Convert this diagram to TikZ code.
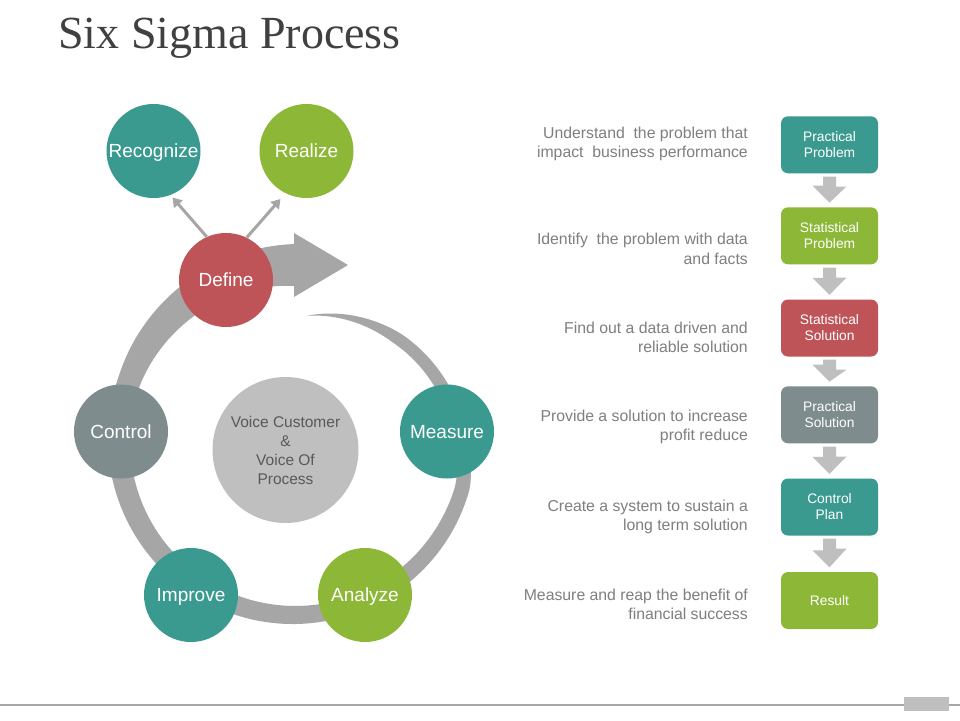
\documentclass[tikz,border=0pt]{standalone}
\usepackage{fontspec}
\setmainfont{Liberation Sans}
\newfontfamily\titlefont{Liberation Serif}
\usetikzlibrary{arrows.meta,calc}
\definecolor{tealc}{HTML}{3A9A90}
\definecolor{greenc}{HTML}{8DB737}
\definecolor{redc}{HTML}{BE5457}
\definecolor{grayc}{HTML}{7F8C8D}
\definecolor{ringgray}{HTML}{A6A6A6}
\definecolor{lightgray}{HTML}{BFBFBF}
\definecolor{centertext}{HTML}{595959}
\definecolor{desctext}{HTML}{7F7F7F}
\definecolor{titlegray}{HTML}{404040}
\newcommand\blockdown[2]{%
  \fill[lightgray] ($(#1.south)+(-6.5,3)$) -- ++(13,0) -- ++(0,10) -- ++(10.5,0)
    -- ($(#2.north)+(0,-4.5)$) -- ++(-17,-17) -- ++(10.5,0) -- cycle;}
\begin{document}
\begin{tikzpicture}[x=1pt,y=-1pt,
  declare function={
    rr(\a) = (\a > -15) ? (175 - 50*(\a+15)/99) : 175;
    ww(\a) = (\a > 45) ? (12*(84-\a)/39) : ((\a > -200) ? (12 + 11*(45-\a)/245) : (23 + 19*(-200-\a)/70));
  },
  bigcirc/.style={circle, minimum size=94pt, inner sep=0pt, text=white,
    text height=13.6pt, text depth=0pt,
    font=\fontsize{19}{22}\selectfont},
  stepbox/.style={rounded corners=7pt, minimum width=97pt, minimum height=57pt,
    inner sep=0pt, text=white, align=center, font=\fontsize{13.8}{16}\selectfont},
  desc/.style={anchor=east, align=right, inner sep=0pt, text=desctext,
    font=\fontsize{15.8}{19.5}\selectfont},
  smallarrow/.style={draw=ringgray, line width=3pt, -{Triangle[width=11pt,length=9pt]}}
]
\useasboundingbox (0,0) rectangle (960,720);
\fill[white] (0,0) rectangle (960,720);

% title
\node[anchor=base west, inner sep=0pt, text=titlegray,
  font=\titlefont\fontsize{46}{50}\selectfont] (title) at (58,48) {Six Sigma Process};

% spiral ring arrow
\fill[ringgray]
  plot[domain=84:-270, samples=160, variable=\a]
    ({294+(rr(\a)+ww(\a)/2)*cos(\a)}, {440-(rr(\a)+ww(\a)/2)*sin(\a)})
  -- (294,233) -- (348,265) -- (294,297)
  -- plot[domain=-270:84, samples=160, variable=\a]
    ({294+(rr(\a)-ww(\a)/2)*cos(\a)}, {440-(rr(\a)-ww(\a)/2)*sin(\a)})
  -- cycle;

% centre circle
\node[circle, minimum size=146pt, inner sep=0pt, fill=lightgray, text=centertext,
  align=center, font=\fontsize{15.5}{19}\selectfont] (voice) at (285.5,450)
  {Voice Customer\\\&\\Voice Of\\Process};

% cycle circles
\node[bigcirc, fill=tealc] (rec) at (153.5,151) {Recognize};
\node[bigcirc, fill=greenc] (real) at (306.5,151) {Realize};
\node[bigcirc, fill=redc] (def) at (226,280) {Define};
\node[bigcirc, fill=grayc] (ctrl) at (121,431.5) {Control};
\node[bigcirc, fill=tealc] (meas) at (447,431.5) {Measure};
\node[bigcirc, fill=tealc] (imp) at (191,595) {Improve};
\node[bigcirc, fill=greenc] (ana) at (365,595) {Analyze};

% small arrows from Define
\coordinate (rectip) at (172.5,197.5);
\coordinate (realtip) at (280.5,199);
\draw[smallarrow] (def.114) -- (rectip);
\draw[smallarrow] (def.64) -- (realtip);

% right column boxes
\node[stepbox, fill=tealc] (b1) at (829.5,144.8) {Practical\\Problem};
\node[stepbox, fill=greenc] (b2) at (829.5,235.8) {Statistical\\Problem};
\node[stepbox, fill=redc] (b3) at (829.5,328) {Statistical\\Solution};
\node[stepbox, fill=grayc] (b4) at (829.5,414.8) {Practical\\Solution};
\node[stepbox, fill=tealc] (b5) at (829.5,507) {Control\\Plan};
\node[stepbox, fill=greenc] (b6) at (829.5,600.5) {Result};

\blockdown{b1}{b2}
\blockdown{b2}{b3}
\blockdown{b3}{b4}
\blockdown{b4}{b5}
\blockdown{b5}{b6}

% descriptions
\node[desc] (d1) at (748,144) {Understand\ \ the problem that\\impact\ \ business performance};
\node[desc] (d2) at (748,249) {Identify\ \ the problem with data\\and facts};
\node[desc] (d3) at (748,337.5) {Find out a data driven and\\reliable solution};
\node[desc] (d4) at (748,427) {Provide a solution to increase\\profit reduce};
\node[desc] (d5) at (748,517) {Create a system to sustain a\\long term solution};
\node[desc] (d6) at (748,604.5) {Measure and reap the benefit of\\financial success};

% footer
\draw[ringgray, line width=1.5pt] (0,705) -- (960,705);
\fill[lightgray] (904,697) rectangle (949,711);
\end{tikzpicture}
\end{document}
